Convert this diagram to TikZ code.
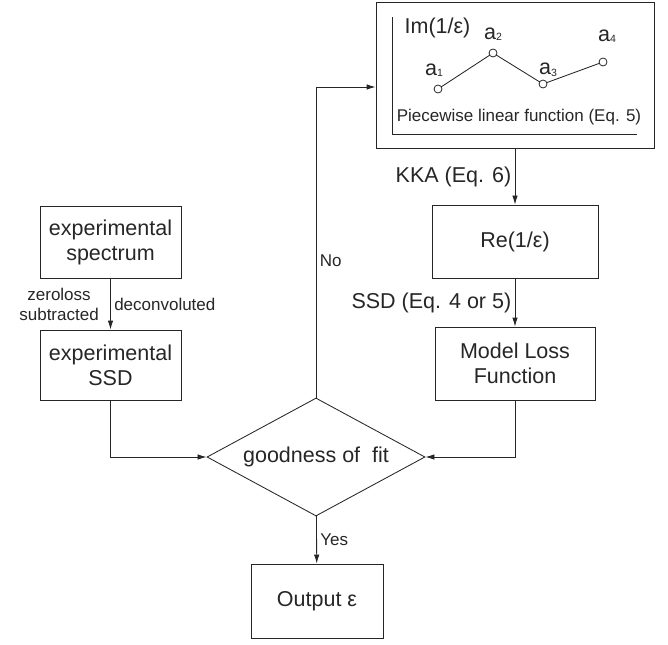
\documentclass[tikz,border=0pt]{standalone}
\usepackage{fontspec}
\setmainfont{Liberation Sans}
\usetikzlibrary{shapes.geometric,arrows.meta}
\newcommand{\asub}[1]{\raisebox{-1.5pt}{\fontsize{10.5}{10.5}\selectfont #1}}
\begin{document}
\begin{tikzpicture}[x=1pt,y=-1pt,line width=0.85pt,color=black!85,>={Latex[length=9pt,width=5.5pt]},
  every node/.style={font=\fontsize{21.5}{25}\selectfont},
  box/.style={draw,rectangle,inner sep=0pt,align=center},
  small/.style={font=\fontsize{17}{20}\selectfont}]
\useasboundingbox (0,0) rectangle (668,644);
\node[box,minimum width=278,minimum height=146] (fn) at (515,75) {};
\node[box,minimum width=166,minimum height=73] (re) at (515,241.5) {Re(1/ε)};
\node[box,minimum width=160,minimum height=73] (model) at (515,363.5) {Model Loss\\Function};
\node[box,minimum width=141,minimum height=72] (espec) at (110.5,242) {experimental\\spectrum};
\node[box,minimum width=141,minimum height=70] (essd) at (110.5,365) {experimental\\SSD};
\node[draw,diamond,aspect=1.85,inner sep=0pt,minimum width=218,minimum height=118] (gof) at (316,457) {goodness of \ fit};
\node[box,minimum width=132,minimum height=74] (out) at (317,601) {Output ε};
% piecewise function inside the top box
\draw (392,17) |- (637,134);
\draw (438,89) -- (493,53) -- (543,84) -- (603,62);
\foreach \p in {(438,89),(493,53),(543,84),(603,62)}
  \filldraw[fill=white,line width=0.8pt] \p circle (4);
\node at (437.5,28) {Im(1/ε)};
\node at (434,70) {a\asub{1}};
\node at (493,34) {a\asub{2}};
\node at (548,70) {a\asub{3}};
\node at (607,36) {a\asub{4}};
\node[small] at (519,117) {Piecewise linear function (Eq. 5)};
% connectors
\draw[->] (fn) -- node[left]{KKA (Eq. 6)} (re);
\draw[->] (re) -- node[left]{SSD (Eq. 4 or 5)} (model);
\draw[->] (espec) -- node[small,left,align=center,xshift=-8pt]{zeroloss\\subtracted} node[small,right]{deconvoluted} (essd);
\draw[->] (essd) |- (gof);
\draw[->] (model) |- (gof);
\draw[->] (gof) -- node[small,right]{Yes} (out);
\draw[->] (gof) |- node[small,right,pos=0.22]{No} ([yshift=-12pt]fn.west);
\end{tikzpicture}
\end{document}
